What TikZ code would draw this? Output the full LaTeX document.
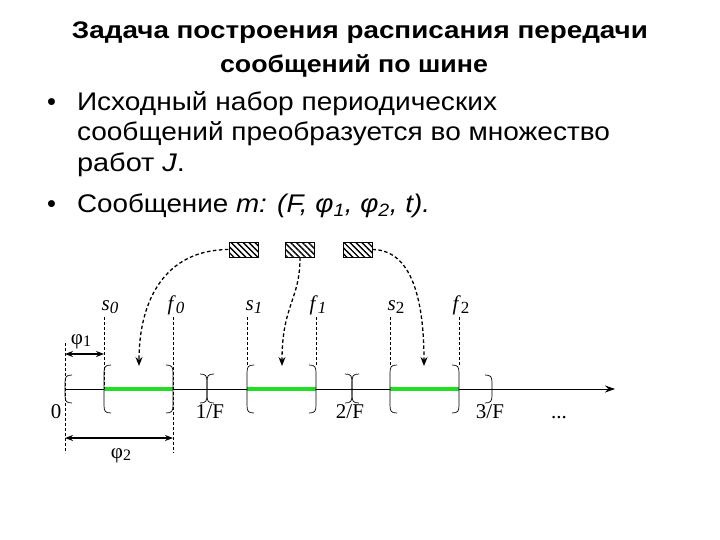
\documentclass[tikz,border=0pt]{standalone}
\usepackage{fontspec}
\setmainfont{Liberation Sans}
\newfontfamily\tms{Liberation Serif}
\usetikzlibrary{arrows.meta,patterns.meta}
\definecolor{bargreen}{RGB}{34,221,34}
\newcommand{\fitw}[2]{\resizebox{#1pt}{\height}{#2}}
\begin{document}
\begin{tikzpicture}[x=1pt,y=-1pt,
  txt/.style={inner sep=0pt,outer sep=0pt,anchor=base west},
  ttl/.style={inner sep=0pt,outer sep=0pt,anchor=base,font=\fontsize{24}{24}\selectfont\bfseries},
  bul/.style={inner sep=0pt,outer sep=0pt,anchor=base west,font=\fontsize{25.5}{25.5}\selectfont},
  lbl/.style={inner sep=0pt,outer sep=0pt,anchor=base,font=\fontsize{21}{21}\selectfont\tms},
  guide/.style={line width=0.6pt,dash pattern=on 3pt off 2pt},
  brk/.style={line width=0.7pt},
  bar/.style={line width=4.5pt,bargreen},
  dim/.style={line width=1.5pt,{Stealth[length=8pt,width=6pt]}-{Stealth[length=8pt,width=6pt]}},
  curv/.style={line width=1.3pt,dash pattern=on 3.5pt off 2.5pt,-{Stealth[length=9pt,width=7pt]}},
  hbox/.style={draw,line width=0.8pt,minimum width=29pt,minimum height=15pt,inner sep=0pt,
    pattern={Lines[angle=-45,distance=4.2pt,line width=1.4pt]}}
]
\useasboundingbox (0,0) rectangle (720,540);

% title
\node[ttl] (t1) at (360,39) {\fitw{576}{Задача построения расписания передачи}};
\node[ttl] (t2) at (354,73) {\fitw{268}{сообщений по шине}};

% bullets
\node[bul,anchor=base] (d1) at (51.5,111) {•};
\node[bul] (l1) at (77,111) {\fitw{420}{Исходный набор периодических}};
\node[bul] (l2) at (77,141) {\fitw{533}{сообщений преобразуется во множество}};
\node[bul] (l3) at (77,172) {\fitw{108}{работ \textit{J}.}};
\node[bul,anchor=base] (d2) at (51.5,213) {•};
\node[bul] (l4) at (77,213) {\fitw{353}{Сообщение \textit{m: (F, φ\textsubscript{1}, φ\textsubscript{2}, t).}}};

% time axis
\coordinate (o) at (65,389);
\coordinate (end) at (615,389);
\draw[line width=0.8pt,-{Stealth[length=10pt,width=7pt]}] (o) -- (end);

% key points
\coordinate (s0) at (104,389);
\coordinate (f0) at (173,389);
\coordinate (s1) at (247,389);
\coordinate (f1) at (316,389);
\coordinate (s2) at (390,389);
\coordinate (f2) at (459,389);

% green bars
\draw[bar] (s0) -- (f0);
\draw[bar] (s1) -- (f1);
\draw[bar] (s2) -- (f2);

% dashed guides
\draw[guide] (65,343) -- (65,453);
\draw[guide] (104,317) -- (s0);
\draw[guide] (173,317) -- (173,453);
\foreach \x in {247,316,390,459} \draw[guide] (\x,317) -- (\x,366);

% brackets
\foreach \x/\t/\b in {65/375/403,104/365/413,247/365/413,390/365/413,207/374/403,352/374/403}
  \draw[brk] (\x+7,\t) .. controls (\x+1,\t) and (\x,\t+2) .. (\x,\t+8) -- (\x,\b-8) .. controls (\x,\b-2) and (\x+1,\b) .. (\x+7,\b);
\foreach \x/\t/\b in {173/365/413,316/365/413,459/365/413,207/374/403,352/374/403,492/375/403}
  \draw[brk] (\x-7,\t) .. controls (\x-1,\t) and (\x,\t+2) .. (\x,\t+8) -- (\x,\b-8) .. controls (\x,\b-2) and (\x-1,\b) .. (\x-7,\b);

% dimension arrows
\coordinate (p1a) at (65,354);
\coordinate (p1b) at (104,354);
\coordinate (p2a) at (65,438);
\coordinate (p2b) at (173,438);
\draw[dim] (p1a) -- (p1b);
\draw[dim] (p2a) -- (p2b);

% labels
\node[lbl] (phi1) at (81,344) {φ\raisebox{-2pt}{\fontsize{16}{16}\selectfont 1}};
\node[lbl] (phi2) at (121,458) {φ\raisebox{-2pt}{\fontsize{16}{16}\selectfont 2}};
\node[lbl] (ls0) at (110,310) {\textit{s}\raisebox{-3pt}{\fontsize{17}{17}\selectfont\textit{0}}};
\node[lbl] (lf0) at (176,310) {\textit{f}\raisebox{-3pt}{\fontsize{17}{17}\selectfont\textit{0}}};
\node[lbl] (ls1) at (254,310) {\textit{s}\raisebox{-3pt}{\fontsize{17}{17}\selectfont\textit{1}}};
\node[lbl] (lf1) at (318,310) {\textit{f}\raisebox{-3pt}{\fontsize{17}{17}\selectfont\textit{1}}};
\node[lbl] (ls2) at (396,310) {\textit{s}\raisebox{-3pt}{\fontsize{17}{17}\selectfont 2}};
\node[lbl] (lf2) at (461,310) {\textit{f}\raisebox{-3pt}{\fontsize{17}{17}\selectfont 2}};
\node[lbl] (z) at (56,418) {0};
\node[lbl] (F1) at (210,418) {1/F};
\node[lbl] (F2) at (350,418) {2/F};
\node[lbl] (F3) at (490,418) {3/F};
\node[lbl] (dots) at (559,418) {...};

% message boxes
\node[hbox] (b1) at (243.5,249.5) {};
\node[hbox] (b2) at (300,249.5) {};
\node[hbox] (b3) at (357.5,249.5) {};

\coordinate (a1) at (139,366);
\coordinate (a2) at (282,366);
\coordinate (a3) at (424,366);
\draw[curv] (b1.west) .. controls (165,250) and (139,300) .. (a1);
\draw[curv] (b2.south) .. controls (300,300) and (282,305) .. (a2);
\draw[curv] (b3.east) .. controls (412,250) and (424,300) .. (a3);
\end{tikzpicture}
\end{document}
